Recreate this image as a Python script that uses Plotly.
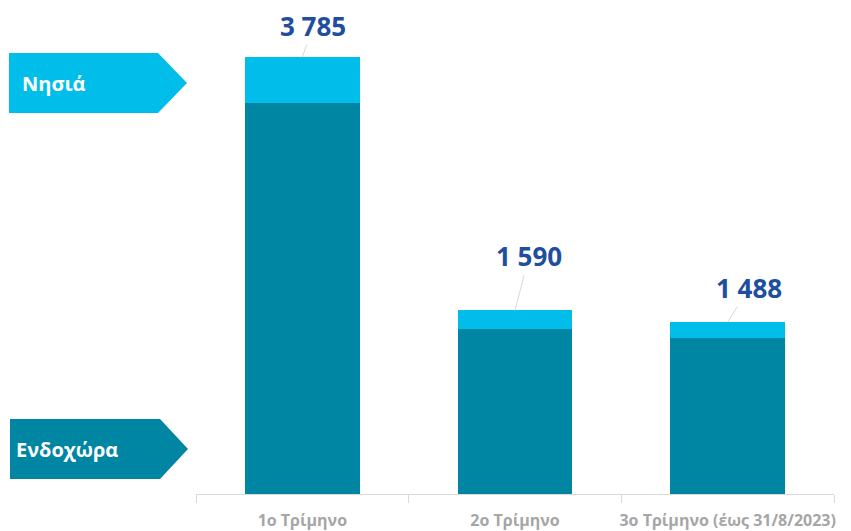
import plotly.graph_objects as go

categories = ["1ο Τρίμηνο", "2ο Τρίμηνο", "3ο Τρίμηνο (έως 31/8/2023)"]
endochora = [3389, 1432, 1351]
nisia = [396, 158, 137]
totals = [a + b for a, b in zip(endochora, nisia)]
series_names = ["Ενδοχώρα", "Νησιά"]

W, H = 851, 531
OFF = 8  # page body margin
PLOT_BOTTOM = 494 - OFF
DARK = "#0086a3"
LIGHT = "#00bde9"
LABEL_BLUE = "#1f4e9f"

fig = go.Figure()
fig.add_trace(go.Bar(x=categories, y=endochora, name=series_names[0],
                     marker=dict(color=DARK, line=dict(width=0))))
fig.add_trace(go.Bar(x=categories, y=nisia, name=series_names[1],
                     marker=dict(color=LIGHT, line=dict(width=0))))

def fmt(v):
    return f"{v:,}".replace(",", " ")

offsets = [(11, -31), (14, -54), (21, -34)]
for cat, tot, (ox, oy) in zip(categories, totals, offsets):
    fig.add_annotation(x=cat, y=tot, text=f"<b>{fmt(tot)}</b>", showarrow=True,
                       arrowhead=0, arrowwidth=1, arrowcolor="#d9d9d9",
                       ax=ox, ay=oy, standoff=0, borderpad=0,
                       font=dict(family="Open Sans", size=26, color=LABEL_BLUE))

def px(x):
    return (x - OFF) / W

def py(y):
    return (PLOT_BOTTOM - (y - OFF)) / PLOT_BOTTOM

def arrow_path(x0, x1, xt, y0, y1):
    ym = (y0 + y1) / 2
    return (f"M {px(x0)},{py(y0)} L {px(x1)},{py(y0)} L {px(xt)},{py(ym)} "
            f"L {px(x1)},{py(y1)} L {px(x0)},{py(y1)} Z")

fig.add_shape(type="path", xref="paper", yref="paper",
              path=arrow_path(9, 158, 187, 53, 113), fillcolor=LIGHT, line=dict(width=0))
fig.add_shape(type="path", xref="paper", yref="paper",
              path=arrow_path(10, 160, 188, 419, 479), fillcolor=DARK, line=dict(width=0))
fig.add_annotation(xref="paper", yref="paper", x=px(20), y=py(83), xanchor="left",
                   yanchor="middle",
                   text="<b>" + series_names[1] + "</b>", showarrow=False,
                   font=dict(family="Open Sans", size=20, color="white"))
fig.add_annotation(xref="paper", yref="paper", x=px(14), y=py(449), xanchor="left",
                   yanchor="middle",
                   text="<b>" + series_names[0] + "</b>", showarrow=False,
                   font=dict(family="Open Sans", size=20, color="white"))

fig.update_layout(
    width=W, height=H, barmode="stack", bargap=0.46, showlegend=False,
    paper_bgcolor="white", plot_bgcolor="white",
    margin=dict(l=0, r=0, t=0, b=H - PLOT_BOTTOM, autoexpand=False),
    xaxis=dict(domain=[(196 - OFF) / W, (834 - OFF) / W], showline=True,
               linecolor="#d9d9d9", linewidth=1, tickangle=0, automargin=False,
               ticks="outside", tickson="boundaries", ticklen=8, tickcolor="#d9d9d9",
               ticklabelstandoff=12,
               tickfont=dict(family="Open Sans", size=16, color="#a6a6a6", weight="bold"),
               showgrid=False, zeroline=False),
    yaxis=dict(range=[0, PLOT_BOTTOM / 0.11546], visible=False, showgrid=False,
               zeroline=False, automargin=False),
)

fig.write_html("out.html")
